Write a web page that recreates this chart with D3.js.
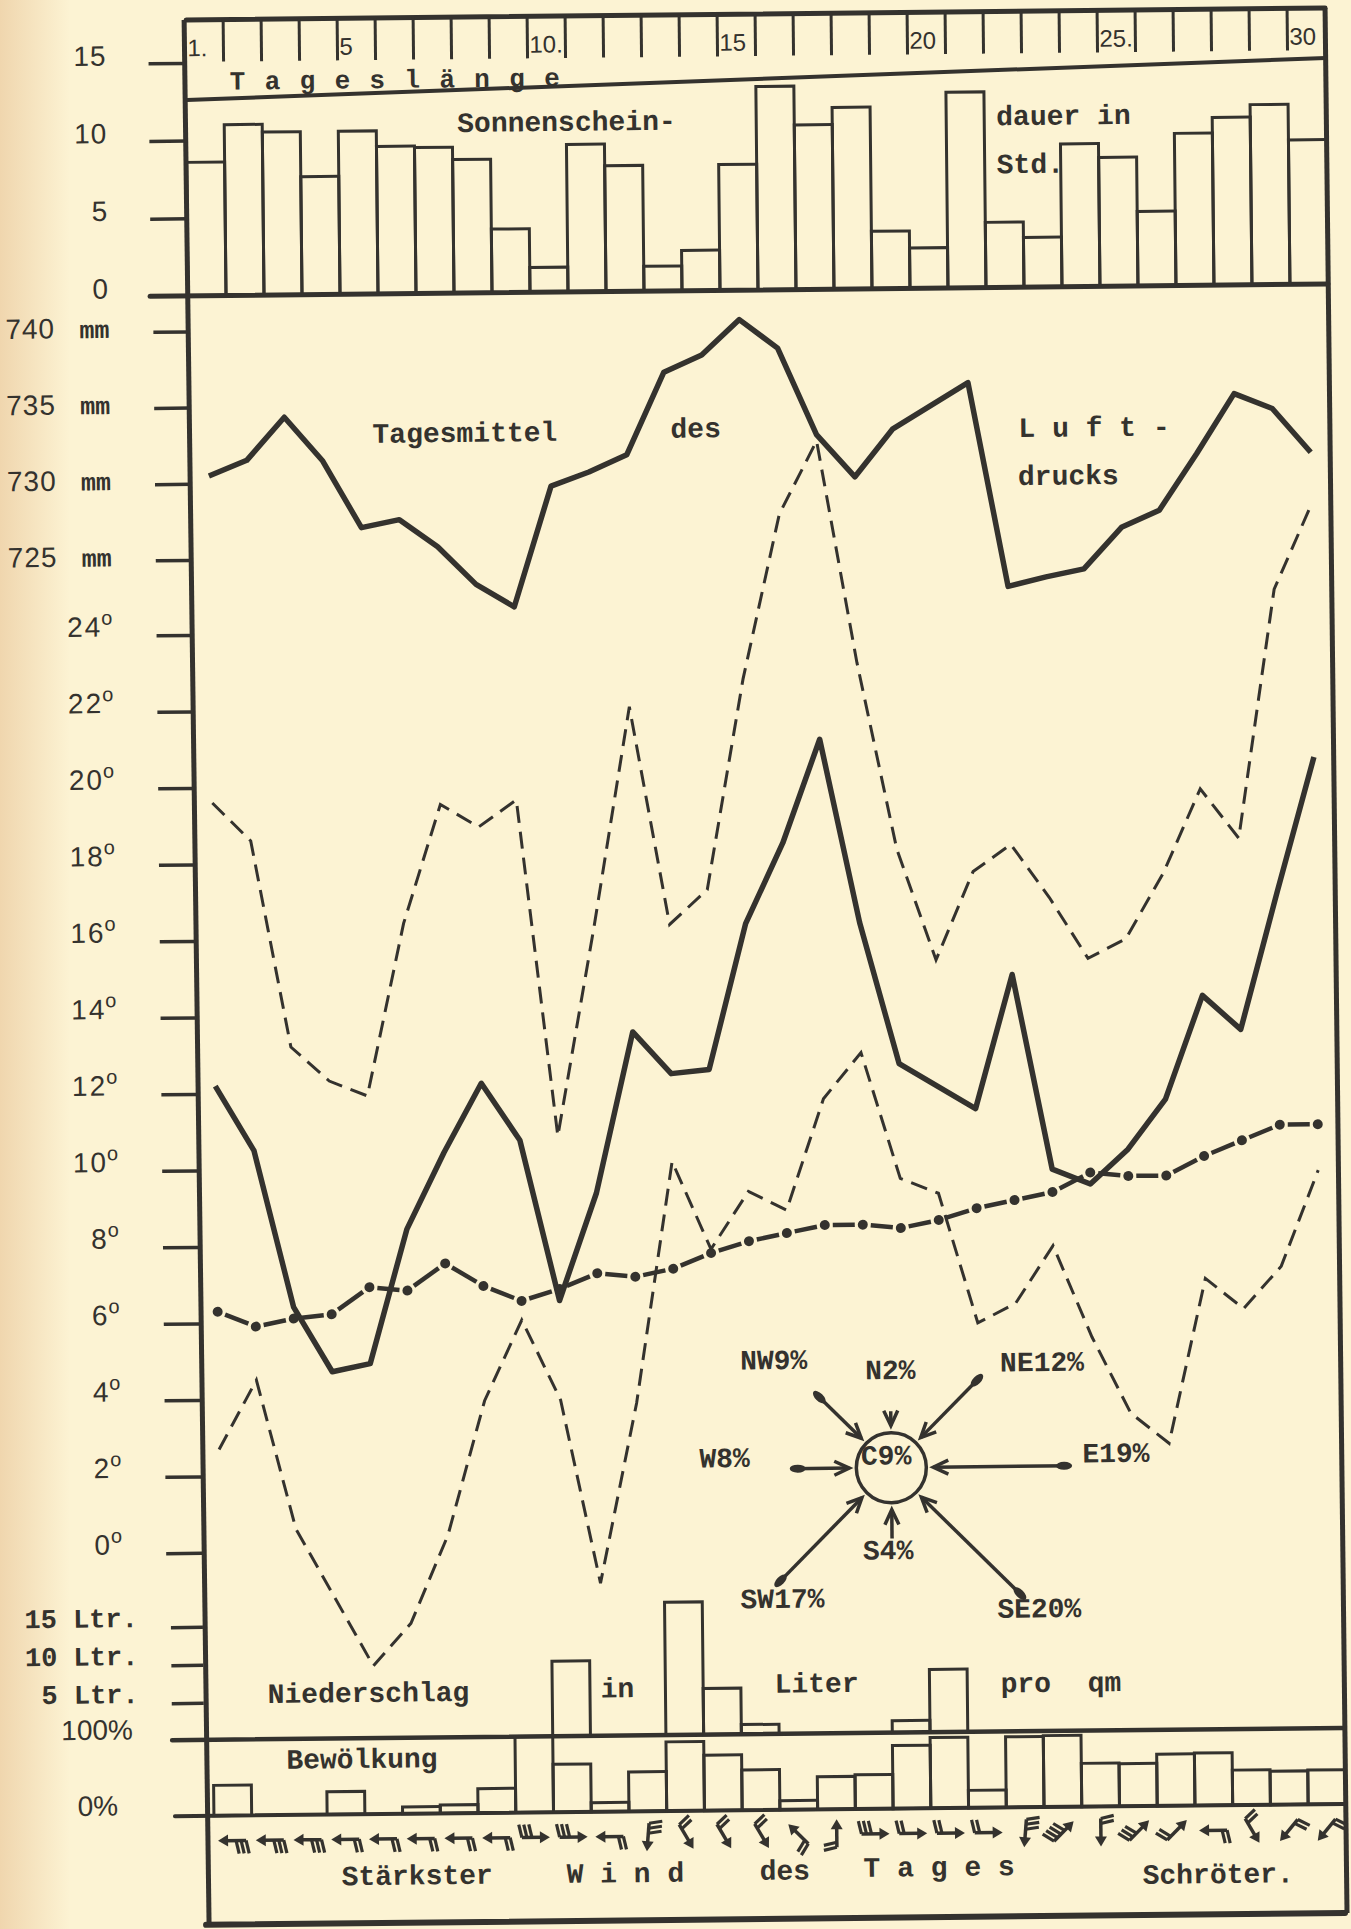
<!DOCTYPE html>
<html>
<head>
<meta charset="utf-8">
<title>Witterung</title>
<script src="https://cdn.jsdelivr.net/npm/d3@7"></script>
<style>
  html, body { margin: 0; padding: 0; background: #fcf3d3; }
  svg { display: block; }
  .mono { font-family: "Liberation Mono", "DejaVu Sans Mono", monospace; font-weight: 700; font-size: 28px; fill: #34322e; }
  .hand { font-family: "Liberation Sans", Arial, sans-serif; font-size: 28px; fill: #34322e; letter-spacing: 1px; }
</style>
</head>
<body>
<div id="chart"></div>
<script>

var days = d3.range(1, 31);

// Sonnenscheindauer in Std.
var sunHours = [8.6, 11.0, 10.5, 7.6, 10.5, 9.5, 9.4, 8.6, 4.1, 1.6,
                9.5, 8.1, 1.6, 2.6, 8.1, 13.1, 10.6, 11.7, 3.7, 2.6,
                12.6, 4.2, 3.2, 9.2, 8.3, 4.8, 9.8, 10.8, 11.6, 9.3];

// Tagesmittel des Luftdrucks (mm)
var pressure = [730.5, 731.5, 734.3, 731.4, 727.0, 727.5, 725.7, 723.2, 721.7, 729.6,
                730.5, 731.6, 737.0, 738.1, 740.4, 738.5, 732.8, 730.0, 733.1, 734.6,
                736.1, 722.7, 723.3, 723.8, 726.5, 727.6, 731.3, 735.2, 734.2, 731.3];

// Temperaturen (Grad)
var tempMax = [19.6, 18.6, 13.2, 12.3, 11.9, 16.4, 19.5, 18.9, 19.6, 10.8,
               16.2, 22.0, 16.3, 17.2, 22.7, 27.0, 28.9, 23.1, 18.2, 15.3,
               17.6, 18.3, 16.9, 15.3, 15.8, 17.5, 19.7, 18.4, 24.9, 27.1];
var tempMean = [12.2, 10.5, 6.4, 4.7, 4.9, 8.4, 10.4, 12.2, 10.7, 6.5,
                9.3, 13.5, 12.4, 12.5, 16.3, 18.4, 21.1, 16.3, 12.6, 12.0,
                11.4, 14.9, 9.8, 9.4, 10.3, 11.6, 14.3, 13.4, 17.0, 20.5];
var tempNormal = [6.3, 5.9, 6.1, 6.2, 6.9, 6.8, 7.5, 6.9, 6.5, 6.8,
                  7.2, 7.1, 7.3, 7.7, 8.0, 8.2, 8.4, 8.4, 8.3, 8.5,
                  8.8, 9.0, 9.2, 9.7, 9.6, 9.6, 10.1, 10.5, 10.9, 10.9];
var tempMin = [2.7, 4.5, 0.6, -1.2, -3.0, -1.9, 0.4, 3.9, 6.0, 3.9,
               -0.9, 3.8, 10.1, 7.8, 9.3, 8.8, 11.7, 12.9, 9.6, 9.2,
               5.8, 6.3, 7.8, 5.4, 3.4, 2.6, 6.9, 6.1, 7.2, 9.7];

// Niederschlag in Liter pro qm, Bewoelkung in %
var rainLtr = [0, 0, 0, 0, 0, 0, 0, 0, 0, 10.0,
               0, 0, 17.6, 6.2, 1.4, 0, 0, 0, 1.7, 8.4,
               0, 0, 0, 0, 0, 0, 0, 0, 0, 0];
var cloudPct = [40, 0, 0, 30, 0, 9, 11, 32, 100, 63,
                12, 52, 91, 73, 53, 12, 43, 45, 83, 93,
                23, 93, 94, 57, 56, 68, 69, 46, 44, 45];

// staerkster Wind des Tages: Richtung, in die der Pfeil zeigt (Grad) und Fiedern
var windDir = [180, 180, 180, 180, 180, 180, 180, 180, 0, 0,
               180, 95, 60, 60, 60, 225, 270, 0, 0, 0,
               0, 95, 315, 90, 315, 315, 180, 60, 130, 130];
var windForce = [3, 3, 3, 2, 2, 2, 2, 2, 3, 3,
                 2, 3, 2, 2, 2, 2, 2, 3, 2, 2,
                 2, 3, 4, 2, 3, 2, 2, 2, 2, 2];

// Windrose
var roseDirs = ["N", "NE", "E", "SE", "S", "SW", "W", "NW"];
var rosePct = [2, 12, 19, 20, 4, 17, 8, 9];
var calmPct = 9;

// ticks
var dayLabelDays = [1, 5, 10, 15, 20, 25, 30];
var dayLabelText = ["1.", "5", "10.", "15", "20", "25.", "30"];
var sunTicks = [0, 5, 10, 15];
var pressTicks = [725, 730, 735, 740];
var tempTicks = [0, 2, 4, 6, 8, 10, 12, 14, 16, 18, 20, 22, 24];
var rainTicks = [5, 10, 15];
var cloudTicks = [0, 100];


var ink = "#34322e", paper = "#fcf3d3";
var W = 1351, H = 1929;

var svg = d3.select("#chart").append("svg")
    .attr("width", W)
    .attr("height", H);

var defs = svg.append("defs");
var grad = defs.append("linearGradient").attr("id", "edge").attr("x1", 0).attr("x2", 1);
grad.append("stop").attr("offset", 0).attr("stop-color", "#f0d6ae");
grad.append("stop").attr("offset", 1).attr("stop-color", paper);

svg.append("rect").attr("width", W).attr("height", H).attr("fill", paper);
svg.append("rect").attr("width", 70).attr("height", H).attr("fill", "url(#edge)");

// the sheet lies a little skewed on the scan
var g = svg.append("g").attr("transform", "rotate(-0.6,760,960)");

var frameL = 196, frameR = 1335, frameT = 14, frameB = 1919;
var sunBase = 290, mainBase = 1734, cloudBase = 1810;

var x = d3.scaleBand().domain(days).range([195, 1335]);
var xb = d3.scaleBand().domain(days).range([205, 1337]);
function cx(d) { return x(d) + x.bandwidth() / 2; }
function cxb(d) { return xb(d) + xb.bandwidth() / 2; }

var ySun = d3.scaleLinear().domain([0, 15]).range([290, 57]);
var yP = d3.scaleLinear().domain([725, 740]).range([554, 325.5]);
var yT = d3.scaleLinear().domain([0, 24]).range([1547, 629]);
var yR = d3.scaleLinear().domain([0, 15]).range([1735, 1621]);
var yC = d3.scaleLinear().domain([0, 100]).range([1810, 1734]);

function hline(y, x1, x2, w) {
    g.append("line").attr("x1", x1).attr("x2", x2).attr("y1", y).attr("y2", y)
        .attr("stroke", ink).attr("stroke-width", w).attr("stroke-linecap", "round");
}

function ticks(scale, values, len) {
    var ax = g.append("g")
        .attr("transform", "translate(" + frameL + ",0)")
        .call(d3.axisLeft(scale).tickValues(values).tickSize(len).tickFormat(""));
    ax.select(".domain").remove();
    ax.selectAll("line").attr("stroke", ink).attr("stroke-width", 3.5);
}

// ---- Sonnenschein bars
g.append("g").selectAll("rect")
    .data(days)
    .enter().append("rect")
    .attr("x", function(d) { return x(d); })
    .attr("width", x.bandwidth())
    .attr("y", function(d, i) { return ySun(sunHours[i]); })
    .attr("height", function(d, i) { return sunBase - ySun(sunHours[i]); })
    .attr("fill", "none")
    .attr("stroke", ink)
    .attr("stroke-width", 3);

// ---- frame
hline(frameT, frameL, frameR, 5);
hline(sunBase, 157, frameR, 5);
hline(mainBase, 164, frameR, 4.5);
hline(cloudBase, 166, frameR, 4);
hline(frameB, frameL, frameR, 6);
g.append("line").attr("x1", 194).attr("y1", frameT).attr("x2", 199).attr("y2", frameB)
    .attr("stroke", ink).attr("stroke-width", 5);
g.append("line").attr("x1", frameR).attr("y1", frameT).attr("x2", 1337).attr("y2", frameB)
    .attr("stroke", ink).attr("stroke-width", 5);
// line under the day ruler (drawn aslant)
g.append("line").attr("x1", frameL).attr("y1", 94).attr("x2", frameR).attr("y2", 64)
    .attr("stroke", ink).attr("stroke-width", 4);

// day ruler
g.append("g").selectAll("line")
    .data(days.slice(1))
    .enter().append("line")
    .attr("x1", function(d) { return x(d); })
    .attr("x2", function(d) { return x(d); })
    .attr("y1", frameT)
    .attr("y2", 56)
    .attr("stroke", ink)
    .attr("stroke-width", 3);

g.append("g").selectAll("text")
    .data(dayLabelDays)
    .enter().append("text")
    .attr("class", "hand")
    .attr("x", function(d) { return x(d) + 2; })
    .attr("y", 42)
    .attr("dy", "0.35em")
    .style("font-size", "24px")
    .style("letter-spacing", "0px")
    .text(function(d, i) { return dayLabelText[i]; });

g.append("text").attr("class", "mono")
    .attr("x", 239).attr("y", 75).attr("dy", "0.35em")
    .style("font-size", "26px")
    .attr("textLength", 330).attr("lengthAdjust", "spacing")
    .text("T a g e s l ä n g e");

// ---- y ticks
ticks(ySun, sunTicks.slice(1), 38);
ticks(yP, pressTicks, 36);
ticks(yT, tempTicks, 36);
ticks(yR, rainTicks, 32);

g.append("g").selectAll("text")
    .data(sunTicks)
    .enter().append("text")
    .attr("class", "hand")
    .attr("x", 116)
    .attr("y", function(d) { return ySun(d) - 8; })
    .attr("dy", "0.35em")
    .attr("text-anchor", "end")
    .text(function(d) { return d; });

var pl = g.append("g").selectAll("text")
    .data(pressTicks)
    .enter().append("text")
    .attr("y", function(d) { return yP(d); })
    .attr("dy", "0.35em");
pl.append("tspan").attr("class", "hand").attr("x", 12).text(function(d) { return d; });
pl.append("tspan").attr("class", "mono").attr("x", 86).style("font-size", "25px").text("mm");

var tl = g.append("g").selectAll("text")
    .data(tempTicks)
    .enter().append("text")
    .attr("class", "hand")
    .attr("x", 116)
    .attr("y", function(d) { return yT(d) - 9; })
    .attr("dy", "0.35em")
    .attr("text-anchor", "end")
    .style("letter-spacing", "2px");
tl.append("tspan").text(function(d) { return d; });
tl.append("tspan").attr("dy", -12).attr("dx", -1).style("font-size", "20px").style("letter-spacing", "0px").text("o");

g.append("g").selectAll("text")
    .data(rainTicks)
    .enter().append("text")
    .attr("class", "mono")
    .attr("x", 131)
    .attr("y", function(d) { return yR(d) - 10; })
    .attr("dy", "0.35em")
    .attr("text-anchor", "end")
    .style("font-size", "27px")
    .text(function(d) { return d + " Ltr."; });

g.append("g").selectAll("text")
    .data(cloudTicks)
    .enter().append("text")
    .attr("class", "hand")
    .attr("x", 89)
    .attr("y", function(d) { return yC(d) - 11; })
    .attr("dy", "0.35em")
    .attr("text-anchor", "middle")
    .style("letter-spacing", "0px")
    .text(function(d) { return d + "%"; });

// ---- lines
var pressLine = d3.line()
    .x(function(d) { return cx(d); })
    .y(function(d, i) { return yP(pressure[i]); });

function tempLine(arr) {
    return d3.line()
        .x(function(d) { return cx(d); })
        .y(function(d, i) { return yT(arr[i]); });
}

g.append("path").datum(days)
    .attr("d", pressLine)
    .attr("fill", "none").attr("stroke", ink)
    .attr("stroke-width", 5.5).attr("stroke-linejoin", "round");

g.append("path").datum(days)
    .attr("d", tempLine(tempMax))
    .attr("fill", "none").attr("stroke", ink)
    .attr("stroke-width", 3).attr("stroke-dasharray", "17 9");

g.append("path").datum(days)
    .attr("d", tempLine(tempMin))
    .attr("fill", "none").attr("stroke", ink)
    .attr("stroke-width", 3).attr("stroke-dasharray", "17 9");

g.append("path").datum(days)
    .attr("d", tempLine(tempMean))
    .attr("fill", "none").attr("stroke", ink)
    .attr("stroke-width", 5.5).attr("stroke-linejoin", "round");

// dotted line: a dot on every day, one dash between
var segs = days.slice(1).map(function(d, i) {
    var x1 = cx(days[i]), y1 = yT(tempNormal[i]);
    var x2 = cx(d), y2 = yT(tempNormal[i + 1]);
    var len = Math.hypot(x2 - x1, y2 - y1), k = 8 / len;
    return [x1 + (x2 - x1) * k, y1 + (y2 - y1) * k, x2 - (x2 - x1) * k, y2 - (y2 - y1) * k];
});
g.append("g").selectAll("line")
    .data(segs)
    .enter().append("line")
    .attr("x1", function(s) { return s[0]; })
    .attr("y1", function(s) { return s[1]; })
    .attr("x2", function(s) { return s[2]; })
    .attr("y2", function(s) { return s[3]; })
    .attr("stroke", ink).attr("stroke-width", 4.5);
g.append("g").selectAll("circle")
    .data(days)
    .enter().append("circle")
    .attr("cx", function(d) { return cx(d); })
    .attr("cy", function(d, i) { return yT(tempNormal[i]); })
    .attr("r", 5)
    .attr("fill", ink);

// ---- Niederschlag
g.append("g").selectAll("rect")
    .data(days.filter(function(d, i) { return rainLtr[i] > 0; }))
    .enter().append("rect")
    .attr("x", function(d) { return xb(d); })
    .attr("width", xb.bandwidth())
    .attr("y", function(d) { return yR(rainLtr[d - 1]); })
    .attr("height", function(d) { return mainBase - yR(rainLtr[d - 1]); })
    .attr("fill", "none").attr("stroke", ink).attr("stroke-width", 3);

// ---- Bewoelkung
g.append("g").selectAll("rect")
    .data(days.filter(function(d, i) { return cloudPct[i] > 0; }))
    .enter().append("rect")
    .attr("x", function(d) { return xb(d); })
    .attr("width", xb.bandwidth())
    .attr("y", function(d) { return yC(cloudPct[d - 1]); })
    .attr("height", function(d) { return cloudBase - yC(cloudPct[d - 1]); })
    .attr("fill", "none").attr("stroke", ink).attr("stroke-width", 3);

// ---- staerkster Wind
var wind = g.append("g").selectAll("g")
    .data(days)
    .enter().append("g")
    .attr("transform", function(d, i) {
        return "translate(" + cxb(d) + ",1835) rotate(" + windDir[i] + ")";
    });
wind.append("line")
    .attr("x1", -13).attr("y1", 0).attr("x2", 8).attr("y2", 0)
    .attr("stroke", ink).attr("stroke-width", 3.5);
wind.append("path")
    .attr("d", "M15,0 L5,-6 L5,6Z")
    .attr("fill", ink);
wind.each(function(d, i) {
    var s = d3.select(this);
    for (var k = 0; k < windForce[i]; k++) {
        s.append("line")
            .attr("x1", -13 + k * 5).attr("y1", 0)
            .attr("x2", -16 + k * 5).attr("y2", -13)
            .attr("stroke", ink).attr("stroke-width", 3.2);
    }
});

// ---- Windrose
var rc = [886, 1469], rr = 35, gap = 7;
var roseLen = d3.scaleLinear().domain([0, 20]).range([0, 144]);
var roseAngle = { N: -90, NE: -45, E: 0, SE: 45, S: 90, SW: 135, W: 180, NW: -135 };
var roseLabelOff = { N: [0, -42], NE: [61, -14], E: [46, -13], SE: [15, 10],
                     S: [-4, 11], SW: [6, 13], W: [-67, -12], NW: [-41, -34] };

g.append("circle").attr("cx", rc[0]).attr("cy", rc[1]).attr("r", rr)
    .attr("fill", "none").attr("stroke", ink).attr("stroke-width", 3.5);
g.append("text").attr("class", "mono")
    .attr("x", rc[0] - 5).attr("y", rc[1] - 13).attr("dy", "0.35em")
    .attr("text-anchor", "middle")
    .text("C" + calmPct + "%");

var arrows = g.append("g").selectAll("g")
    .data(roseDirs)
    .enter().append("g")
    .attr("transform", function(d) {
        return "translate(" + rc[0] + "," + rc[1] + ") rotate(" + roseAngle[d] + ")";
    });
arrows.append("line")
    .attr("x1", rr + gap)
    .attr("x2", function(d, i) { return rr + gap + roseLen(rosePct[i]); })
    .attr("y1", 0).attr("y2", 0)
    .attr("stroke", ink).attr("stroke-width", 3.5);
arrows.append("path")
    .attr("d", "M" + (rr + gap + 15) + ",-7 L" + (rr + gap) + ",0 L" + (rr + gap + 15) + ",7")
    .attr("fill", "none").attr("stroke", ink).attr("stroke-width", 3.5);
arrows.filter(function(d, i) { return rosePct[i] > 5; })
    .append("ellipse")
    .attr("cx", function(d) { return rr + gap + roseLen(rosePct[roseDirs.indexOf(d)]) - 6; })
    .attr("cy", 0).attr("rx", 8).attr("ry", 4)
    .attr("fill", ink);

g.append("g").selectAll("text")
    .data(roseDirs)
    .enter().append("text")
    .attr("class", "mono")
    .attr("x", function(d, i) {
        var a = roseAngle[d] * Math.PI / 180, r = rr + gap + roseLen(rosePct[i]);
        return rc[0] + r * Math.cos(a) + roseLabelOff[d][0];
    })
    .attr("y", function(d, i) {
        var a = roseAngle[d] * Math.PI / 180, r = rr + gap + roseLen(rosePct[i]);
        return rc[1] + r * Math.sin(a) + roseLabelOff[d][1];
    })
    .attr("dy", "0.35em")
    .attr("text-anchor", "middle")
    .text(function(d, i) { return d + rosePct[i] + "%"; });

// ---- typed captions
var captions = [
    ["Sonnenschein-", 466, 119], ["dauer in", 1005, 118], ["Std.", 1005, 166],
    ["Tagesmittel", 378, 429], ["des", 676, 427], ["L u f t -", 1024, 430], ["drucks", 1023, 478],
    ["Niederschlag", 260, 1688], ["in", 593, 1686], ["Liter", 767, 1683], ["pro", 993, 1685], ["qm", 1080, 1685],
    ["Bewölkung", 278, 1754],
    ["Stärkster", 332, 1871], ["W i n d", 557, 1871], ["des", 750, 1870],
    ["T a g e s", 854, 1868], ["Schröter.", 1133, 1878]
];
g.append("g").selectAll("text")
    .data(captions)
    .enter().append("text")
    .attr("class", "mono")
    .attr("x", function(c) { return c[1]; })
    .attr("y", function(c) { return c[2]; })
    .attr("dy", "0.35em")
    .text(function(c) { return c[0]; });

</script>
</body>
</html>
